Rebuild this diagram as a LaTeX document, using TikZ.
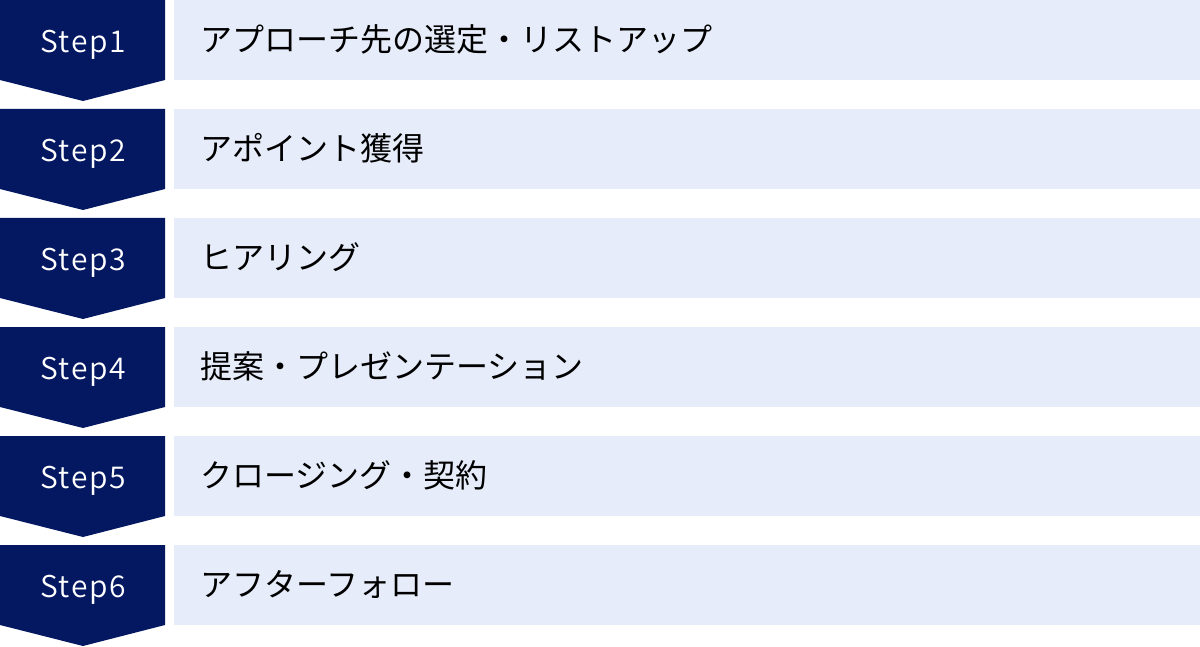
\documentclass[tikz,border=0pt]{standalone}
\usepackage{fontspec}
\setmainfont{Noto Sans CJK JP}
\newfontfamily\jpfont{Noto Sans CJK JP}
\newfontfamily\steplightfont[LetterSpace=5]{Noto Sans CJK JP DemiLight}
\definecolor{navy}{HTML}{041862}
\definecolor{pale}{HTML}{E6ECF9}
\tikzset{
  stepfill/.style={fill=navy},
  steplabel/.style={text=white, font=\steplightfont\fontsize{30}{33}\selectfont, inner sep=0pt, anchor=base},
  band/.style={fill=pale, anchor=north west, minimum width=1026pt, minimum height=80pt, inner sep=0pt, outer sep=0pt},
  bandlabel/.style={text=black, font=\jpfont\fontsize{32}{34}\selectfont, anchor=west, inner sep=0pt}
}
\begin{document}
\begin{tikzpicture}[x=1pt,y=1pt]
\useasboundingbox (0,0) rectangle (1200,-647);
\foreach \i/\lab [count=\n] in {0/{アプローチ先の選定・リストアップ},1/{アポイント獲得},2/{ヒアリング},3/{提案・プレゼンテーション},4/{クロージング・契約},5/{アフターフォロー}}{
  \pgfmathsetmacro{\yo}{-109*\i}
  \fill[stepfill] (0,\yo) -- (165,\yo) -- (165,\yo-80) -- (83,\yo-101) -- (0,\yo-80) -- cycle;
  \node[steplabel] (s\n) at (83,\yo-52.5) {Step\n};
  \node[band] (b\n) at (174,\yo) {};
  \node[bandlabel] (t\n) at ([xshift=26pt,yshift=1pt]b\n.west) {\lab};
}
\end{tikzpicture}
\end{document}
